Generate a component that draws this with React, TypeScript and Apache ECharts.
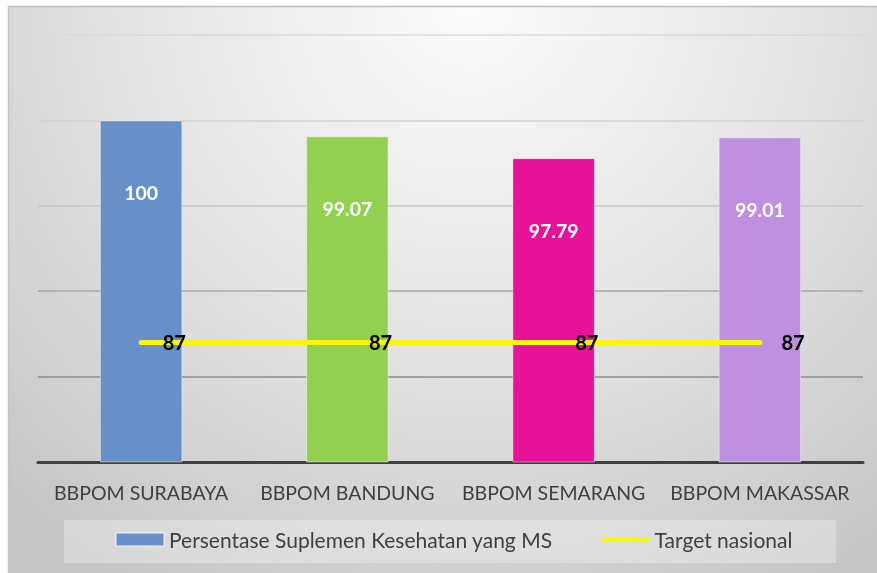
import React, { useEffect, useRef } from "react";
import * as echarts from "echarts";

const categories = ["BBPOM SURABAYA", "BBPOM BANDUNG", "BBPOM SEMARANG", "BBPOM MAKASSAR"];
const persentaseValues = [100, 99.07, 97.79, 99.01];
const targetValues = [87, 87, 87, 87];
const barColors = ["#6690C7", "#92D050", "#E6139A", "#BF8FE0"];
const seriesNames = ["Persentase Suplemen Kesehatan yang MS", "Target nasional"];

const FONT = "Lato, 'Open Sans', sans-serif";
const YELLOW = "#F7F70C";

export default function App() {
  const ref = useRef<HTMLDivElement>(null);
  useEffect(() => {
    if (!ref.current) return;
    const chart = echarts.init(ref.current, undefined, { renderer: "svg" });
    chart.setOption({
      animation: false,
      graphic: [
        {
          type: "rect",
          z: -10,
          silent: true,
          shape: { x: 8, y: 6, width: 869, height: 567 },
          style: {
            fill: new echarts.graphic.RadialGradient(
              470,
              0,
              680,
              [
                { offset: 0, color: "#fcfcfc" },
                { offset: 0.55, color: "#e1e1e1" },
                { offset: 1, color: "#c5c5c5" },
              ],
              true
            ),
          },
        },
        {
          type: "line",
          z: -9,
          silent: true,
          shape: { x1: 8, y1: 6.5, x2: 877, y2: 6.5 },
          style: { stroke: "#bdbdbd", lineWidth: 1.5 },
        },
        {
          type: "line",
          z: -9,
          silent: true,
          shape: { x1: 8.5, y1: 6, x2: 8.5, y2: 573 },
          style: { stroke: "#c4c4c4", lineWidth: 1.5 },
        },
        {
          type: "rect",
          z: -8,
          silent: true,
          shape: { x: 64, y: 520, width: 772, height: 43 },
          style: { fill: "rgba(255,255,255,0.3)" },
        },
      ],
      grid: { left: 38, right: 14, top: 35, bottom: 111, containLabel: false },
      legend: {
        left: 115,
        top: 529,
        itemWidth: 48,
        itemHeight: 13,
        itemGap: 49,
        padding: 0,
        symbolKeepAspect: true,
        textStyle: { fontFamily: FONT, fontSize: 21, color: "#404040" },
        data: [
          { name: seriesNames[0], icon: "rect", itemStyle: { color: barColors[0] } },
          {
            name: seriesNames[1],
            icon: "path://M2.5,0H50.5A2.5,2.5,0,0,1,50.5,5H2.5A2.5,2.5,0,0,1,2.5,0Z",
            itemStyle: { color: YELLOW },
          },
        ],
      },
      xAxis: {
        type: "category",
        data: categories,
        axisLine: { show: true, lineStyle: { color: "#404040", width: 3 } },
        axisTick: { show: false },
        axisLabel: {
          interval: 0,
          color: "#404040",
          fontFamily: FONT,
          fontSize: 19.5,
          margin: 20,
        },
      },
      yAxis: {
        type: "value",
        min: 80,
        max: 105,
        interval: 5,
        axisLabel: { show: false },
        axisLine: { show: false },
        axisTick: { show: false },
        splitLine: {
          show: true,
          lineStyle: {
            width: 1.5,
            color: ["#404040", "#8c8c8c", "#a6a6a6", "#c6c6c6", "#d2d2d2", "#dadada"],
          },
        },
      },
      series: [
        {
          name: seriesNames[0],
          type: "bar",
          barWidth: "40%",
          data: persentaseValues.map((v, i) => ({
            value: v,
            itemStyle: { color: barColors[i] },
          })),
          itemStyle: { borderColor: "rgba(255,255,255,0.45)", borderWidth: 1 },
          label: {
            show: true,
            position: "insideTop",
            distance: 62,
            color: "#ffffff",
            fontFamily: FONT,
            fontWeight: "bold",
            fontSize: 19.5,
          },
        },
        {
          name: seriesNames[1],
          type: "line",
          data: targetValues,
          symbol: "circle",
          symbolSize: 1,
          itemStyle: { color: YELLOW },
          lineStyle: { color: YELLOW, width: 5, cap: "round" },
          z: 5,
          label: {
            show: true,
            position: "right",
            distance: 21,
            color: "#000000",
            fontFamily: FONT,
            fontWeight: "bold",
            fontSize: 20,
          },
        },
      ],
    });
    return () => chart.dispose();
  }, []);
  return (
    <div
      ref={ref}
      style={{ position: "fixed", left: 0, top: 0, width: 877, height: 573 }}
    />
  );
}
